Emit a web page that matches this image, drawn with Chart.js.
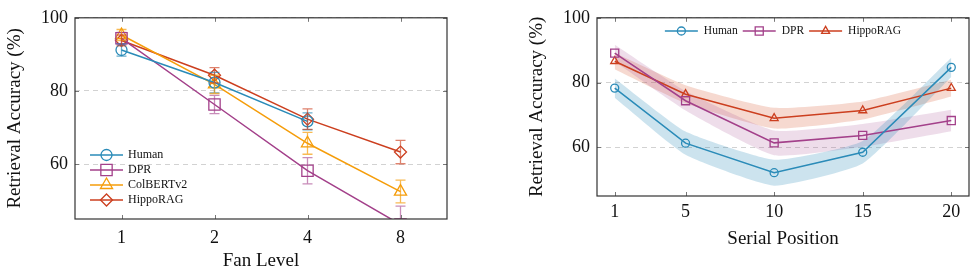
<!DOCTYPE html>
<html>
<head>
<meta charset="utf-8">
<script src="https://cdn.jsdelivr.net/npm/chart.js"></script>
<style>
html, body { margin: 0; padding: 0; background: #fff; }
#wrap { position: relative; width: 976px; height: 274px; }
#fanBox { position: absolute; left: 0; top: 0; }
#posBox { position: absolute; left: 480px; top: 0; }
</style>
</head>
<body>
<div id="wrap">
  <div id="fanBox"><canvas id="fanChart" width="480" height="274"></canvas></div>
  <div id="posBox"><canvas id="posChart" width="496" height="274"></canvas></div>
</div>
<script>
// Fan level panel
var fanLevels = ['1', '2', '4', '8'];
var fanHuman = [91.2, 82.3, 71.7, null];
var fanHumanErr = [1.7, 2.8, 2.3, null];
var fanDPR = [94.4, 76.3, 58.2, 43.5];
var fanDPRErr = [1.6, 2.5, 3.6, 5.0];
var fanColbert = [95.3, 81.8, 65.7, 52.5];
var fanColbertErr = [1.5, 2.5, 3.0, 3.1];
var fanHippo = [93.8, 84.3, 72.3, 63.3];
var fanHippoErr = [1.5, 2.1, 2.8, 3.2];

// Serial position panel
var positions = [1, 5, 10, 15, 20];
var posHuman = [78.3, 61.3, 52.2, 58.5, 84.7];
var posHumanErr = [3.0, 3.6, 4.0, 3.5, 3.0];
var posDPR = [89.1, 74.4, 61.4, 63.7, 68.3];
var posDPRErr = [2.6, 3.0, 3.8, 3.5, 3.3];
var posHippo = [86.6, 76.4, 69.0, 71.4, 78.3];
var posHippoErr = [2.5, 2.8, 3.2, 2.8, 2.6];

var yTicks = [60, 80, 100];
var posTicks = [1, 5, 10, 15, 20];

var blue = '#2a8bb8', purple = '#a3408a', orange = '#f59d0a', red = '#cc3f1f';
var serif = '"Liberation Serif", "Times New Roman", serif';
var tickFont = { family: serif, size: 18 };
var titleFont = { family: serif, size: 19 };

// error bars for the fan level panel
var errorBars = {
    id: 'errorBars',
    afterDatasetsDraw: function (chart) {
        var ctx = chart.ctx, area = chart.chartArea;
        var x = chart.scales.x, y = chart.scales.y;
        ctx.save();
        ctx.beginPath();
        ctx.rect(area.left, area.top, area.right - area.left, area.bottom - area.top);
        ctx.clip();
        chart.data.datasets.forEach(function (ds) {
            if (!ds.errors) return;
            ctx.strokeStyle = ds.errorColor;
            ctx.lineWidth = 1.3;
            ds.data.forEach(function (v, i) {
                if (v == null) return;
                var px = x.getPixelForValue(i);
                var top = y.getPixelForValue(v + ds.errors[i]);
                var bot = y.getPixelForValue(v - ds.errors[i]);
                ctx.beginPath();
                ctx.moveTo(px, top); ctx.lineTo(px, bot);
                ctx.moveTo(px - 5, top); ctx.lineTo(px + 5, top);
                ctx.moveTo(px - 5, bot); ctx.lineTo(px + 5, bot);
                ctx.stroke();
            });
        });
        ctx.restore();
    }
};

// box around the plot with ticks pointing inward
var frameTicks = {
    id: 'frameTicks',
    afterDraw: function (chart) {
        var ctx = chart.ctx, a = chart.chartArea;
        var x = chart.scales.x, y = chart.scales.y;
        ctx.save();
        ctx.strokeStyle = '#777';
        ctx.lineWidth = 1;
        ctx.beginPath();
        x.ticks.forEach(function (t, i) {
            var px = Math.round(x.getPixelForTick(i)) + 0.5;
            ctx.moveTo(px, a.bottom); ctx.lineTo(px, a.bottom - 4);
            ctx.moveTo(px, a.top); ctx.lineTo(px, a.top + 4);
        });
        y.ticks.forEach(function (t, i) {
            var py = Math.round(y.getPixelForTick(i)) + 0.5;
            ctx.moveTo(a.left, py); ctx.lineTo(a.left + 4, py);
            ctx.moveTo(a.right, py); ctx.lineTo(a.right - 4, py);
        });
        ctx.stroke();
        ctx.strokeStyle = '#333';
        ctx.lineWidth = 1.2;
        ctx.strokeRect(a.left, a.top, a.right - a.left, a.bottom - a.top);
        ctx.restore();
    }
};

// pgfplots-like legend: line sample with marker, drawn inside the plot
var sampleLegend = {
    id: 'sampleLegend',
    afterDraw: function (chart, args, opts) {
        var ctx = chart.ctx;
        var items = chart.data.datasets.filter(function (d) { return !d.band; });
        ctx.save();
        ctx.font = opts.font;
        ctx.textBaseline = 'middle';
        var x = opts.x, y = opts.y;
        if (opts.horizontal) {
            var total = 0;
            items.forEach(function (d) {
                total += opts.sample + opts.gap + ctx.measureText(d.label).width;
            });
            total += opts.spacing * (items.length - 1);
            x = (chart.chartArea.left + chart.chartArea.right) / 2 - total / 2;
        }
        items.forEach(function (d) {
            ctx.strokeStyle = d.borderColor;
            ctx.lineWidth = d.borderWidth;
            ctx.beginPath();
            ctx.moveTo(x, y); ctx.lineTo(x + opts.sample, y);
            ctx.stroke();
            ctx.fillStyle = 'rgba(0,0,0,0)';
            ctx.lineWidth = d.pointBorderWidth;
            Chart.helpers.drawPoint(ctx, {
                pointStyle: d.pointStyle, radius: d.pointRadius,
                rotation: 0, borderWidth: d.pointBorderWidth
            }, x + opts.sample / 2, y);
            ctx.fillStyle = '#111';
            ctx.fillText(d.label, x + opts.sample + opts.gap, y);
            if (opts.horizontal) {
                x += opts.sample + opts.gap + ctx.measureText(d.label).width + opts.spacing;
            } else {
                y += opts.step;
            }
        });
        ctx.restore();
    }
};

function fanSeries(label, data, errors, color, errColor, style, radius) {
    return {
        label: label, data: data, errors: errors, errorColor: errColor,
        borderColor: color, borderWidth: 1.5,
        pointStyle: style, pointRadius: radius, pointBorderWidth: 1.3,
        pointBorderColor: color, pointBackgroundColor: 'rgba(0,0,0,0)',
        clip: 0
    };
}

new Chart(document.getElementById('fanChart'), {
    type: 'line',
    data: {
        labels: fanLevels,
        datasets: [
            fanSeries('Human', fanHuman, fanHumanErr, blue, 'rgba(42,139,184,0.7)', 'circle', 5.5),
            fanSeries('DPR', fanDPR, fanDPRErr, purple, 'rgba(163,64,138,0.6)', 'rect', 8),
            fanSeries('ColBERTv2', fanColbert, fanColbertErr, orange, 'rgba(245,157,10,0.7)', 'triangle', 7),
            fanSeries('HippoRAG', fanHippo, fanHippoErr, red, 'rgba(204,63,31,0.65)', 'rectRot', 6)
        ]
    },
    options: {
        responsive: false,
        animation: false,
        layout: { padding: { top: 14, right: 33, left: 0, bottom: 0 } },
        plugins: {
            legend: { display: false },
            tooltip: { enabled: false },
            sampleLegend: { x: 90, y: 155, sample: 33, gap: 5, step: 15, font: '12px ' + serif }
        },
        scales: {
            x: {
                type: 'category',
                offset: true,
                grid: { display: false },
                border: { display: false },
                ticks: { font: tickFont, color: '#111', padding: 0 },
                title: { display: true, text: 'Fan Level', font: titleFont, color: '#111', padding: { top: 0, bottom: 2 } },
                afterFit: function (s) { s.height = 55; }
            },
            y: {
                min: 45,
                max: 100,
                afterBuildTicks: function (s) { s.ticks = yTicks.map(function (v) { return { value: v }; }); },
                grid: { color: '#d2d2d2', drawTicks: false },
                border: { display: false, dash: [5, 4] },
                ticks: { font: tickFont, color: '#111', padding: 7 },
                title: { display: true, text: 'Retrieval Accuracy (%)', font: titleFont, color: '#111', padding: { top: 4, bottom: 0 } },
                afterFit: function (s) { s.width = 75; }
            }
        }
    },
    plugins: [errorBars, frameTicks, sampleLegend]
});

function points(vals) {
    return positions.map(function (p, i) { return { x: p, y: vals[i] }; });
}
function shifted(vals, errs, sign) {
    return positions.map(function (p, i) { return { x: p, y: vals[i] + sign * errs[i] }; });
}
function posSeries(label, vals, color, style, radius) {
    return {
        label: label, data: points(vals),
        borderColor: color, borderWidth: 1.5,
        pointStyle: style, pointRadius: radius, pointBorderWidth: 1.3,
        pointBorderColor: color, pointBackgroundColor: 'rgba(0,0,0,0)'
    };
}
function band(vals, errs, fillColor) {
    return [
        { band: true, data: shifted(vals, errs, -1), borderWidth: 0, pointRadius: 0, tension: 0.15, fill: false },
        { band: true, data: shifted(vals, errs, 1), borderWidth: 0, pointRadius: 0, tension: 0.15, fill: '-1', backgroundColor: fillColor }
    ];
}

new Chart(document.getElementById('posChart'), {
    type: 'line',
    data: {
        datasets: [
            posSeries('Human', posHuman, blue, 'circle', 4),
            posSeries('DPR', posDPR, purple, 'rect', 5.7),
            posSeries('HippoRAG', posHippo, red, 'triangle', 4.6)
        ].concat(
            band(posHuman, posHumanErr, 'rgba(42,139,184,0.24)'),
            band(posDPR, posDPRErr, 'rgba(163,64,138,0.18)'),
            band(posHippo, posHippoErr, 'rgba(214,80,40,0.22)')
        )
    },
    options: {
        responsive: false,
        animation: false,
        layout: { padding: { top: 14, right: 7, left: 0, bottom: 0 } },
        plugins: {
            legend: { display: false },
            tooltip: { enabled: false },
            sampleLegend: { horizontal: true, y: 31, sample: 33, gap: 6, spacing: 5, font: '11.5px ' + serif }
        },
        scales: {
            x: {
                type: 'linear',
                min: 0,
                max: 21,
                afterBuildTicks: function (s) { s.ticks = posTicks.map(function (v) { return { value: v }; }); },
                grid: { display: false },
                border: { display: false },
                ticks: { font: tickFont, color: '#111', padding: -3 },
                title: { display: true, text: 'Serial Position', font: titleFont, color: '#111', padding: { top: 0, bottom: 24 } },
                afterFit: function (s) { s.height = 78; }
            },
            y: {
                min: 45,
                max: 100,
                afterBuildTicks: function (s) { s.ticks = yTicks.map(function (v) { return { value: v }; }); },
                grid: { color: '#d2d2d2', drawTicks: false },
                border: { display: false, dash: [5, 4] },
                ticks: { font: tickFont, color: '#111', padding: 7 },
                title: { display: true, text: 'Retrieval Accuracy (%)', font: titleFont, color: '#111', padding: { top: 46, bottom: 0 } },
                afterFit: function (s) { s.width = 117; }
            }
        }
    },
    plugins: [frameTicks, sampleLegend]
});
</script>
</body>
</html>
